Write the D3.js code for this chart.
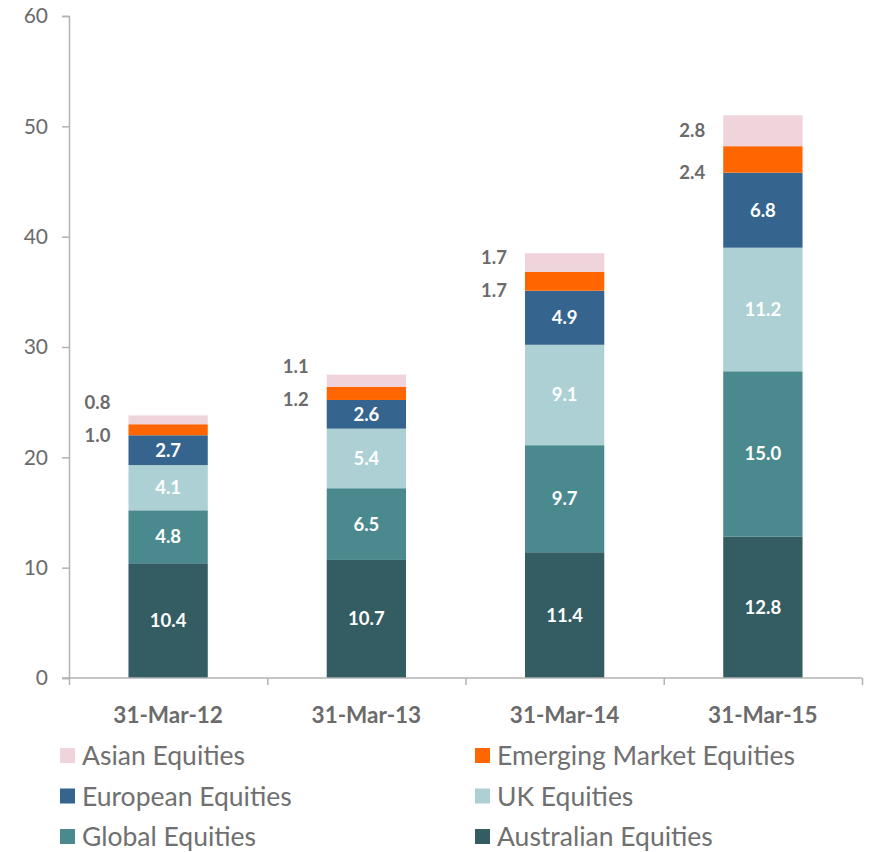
<!DOCTYPE html>
<html>
<head>
<meta charset="utf-8">
<script src="https://cdn.jsdelivr.net/npm/d3@7"></script>
<style>
  body { margin: 0; background: #fff; }
  svg { font-family: Lato, "Open Sans", sans-serif; }
</style>
</head>
<body>
<script>
// chart data
const dates = ["31-Mar-12", "31-Mar-13", "31-Mar-14", "31-Mar-15"];
const australian = [10.4, 10.7, 11.4, 12.8];
const global = [4.8, 6.5, 9.7, 15.0];
const uk = [4.1, 5.4, 9.1, 11.2];
const european = [2.7, 2.6, 4.9, 6.8];
const emerging = [1.0, 1.2, 1.7, 2.4];
const asian = [0.8, 1.1, 1.7, 2.8];
const yTicks = [0, 10, 20, 30, 40, 50, 60];

// stacking order bottom -> top
const series = [
  {key: "Australian Equities", values: australian, color: "#335c63"},
  {key: "Global Equities", values: global, color: "#4a8a8e"},
  {key: "UK Equities", values: uk, color: "#acd0d3"},
  {key: "European Equities", values: european, color: "#35658f"},
  {key: "Emerging Market Equities", values: emerging, color: "#ff6600"},
  {key: "Asian Equities", values: asian, color: "#efd4dc"}
];

// legend order (two columns, row by row)
const legendOrder = ["Asian Equities", "Emerging Market Equities", "European Equities",
  "UK Equities", "Global Equities", "Australian Equities"];

const W = 869, H = 852;
const margin = {top: 16, right: 7, bottom: 174, left: 69};
const width = W - margin.left - margin.right;
const height = H - margin.top - margin.bottom;

const svg = d3.select("body").append("svg")
  .attr("width", W)
  .attr("height", H);

const g = svg.append("g")
  .attr("transform", "translate(" + margin.left + "," + margin.top + ")");

const table = dates.map((d, i) => {
  const row = {date: d};
  series.forEach(s => { row[s.key] = s.values[i]; });
  return row;
});

const stack = d3.stack().keys(series.map(s => s.key));
const stacked = stack(table);

const x = d3.scaleBand()
  .domain(dates)
  .range([0, width])
  .paddingInner(0.6)
  .paddingOuter(0.3);

const xEdge = d3.scaleLinear().domain([0, dates.length]).range([0, width]);

const y = d3.scaleLinear().domain([0, 60]).range([height, 0]);

const axisColor = "#b3b3b3";
const textColor = "#6b6b6b";

// y axis
const yAxis = g.append("g")
  .call(d3.axisLeft(y).tickValues(yTicks).tickSize(7).tickSizeOuter(7).tickPadding(14));
yAxis.selectAll("path, line").attr("stroke", axisColor).attr("stroke-width", 1.5);
yAxis.selectAll("text")
  .attr("fill", textColor)
  .attr("font-size", 21)
  .attr("font-family", "Lato, sans-serif");

// bars
const colorOf = {};
series.forEach(s => { colorOf[s.key] = s.color; });

const layers = g.selectAll("g.layer")
  .data(stacked)
  .enter().append("g")
  .attr("class", "layer")
  .attr("fill", d => colorOf[d.key]);

layers.selectAll("rect")
  .data(d => d)
  .enter().append("rect")
  .attr("x", d => x(d.data.date))
  .attr("y", d => y(d[1]))
  .attr("width", x.bandwidth())
  .attr("height", d => y(d[0]) - y(d[1]));

// x axis: ticks at category boundaries
const xAxis = g.append("g")
  .attr("transform", "translate(0," + height + ")")
  .call(d3.axisBottom(xEdge).tickValues(d3.range(dates.length + 1)).tickFormat("").tickSize(7).tickSizeOuter(0));
xAxis.selectAll("path, line").attr("stroke", axisColor).attr("stroke-width", 1.5);
xAxis.select("path.domain").attr("d", "M-7,0H" + width);

g.selectAll("text.cat")
  .data(dates)
  .enter().append("text")
  .attr("class", "cat")
  .attr("x", d => x(d) + x.bandwidth() / 2)
  .attr("y", height + 45)
  .attr("text-anchor", "middle")
  .attr("fill", textColor)
  .attr("font-size", 22.5)
  .attr("font-weight", 700)
  .text(d => d);

// value labels inside bars (bottom four series)
const inside = stacked.slice(0, 4);
inside.forEach(layer => {
  g.selectAll(null)
    .data(layer)
    .enter().append("text")
    .attr("x", d => x(d.data.date) + x.bandwidth() / 2)
    .attr("y", d => (y(d[0]) + y(d[1])) / 2)
    .attr("dy", "0.35em")
    .attr("text-anchor", "middle")
    .attr("fill", "#fff")
    .attr("font-size", 18.5)
    .attr("font-weight", 700)
    .text(d => (d[1] - d[0]).toFixed(1));
});

// labels outside (left of bar) for emerging and asian
const emLayer = stacked[4], asLayer = stacked[5];
dates.forEach((d, i) => {
  const xl = x(d) - 18;
  const emY = y(emLayer[i][0]);
  const asY = Math.min((y(asLayer[i][0]) + y(asLayer[i][1])) / 2, emY - 33);
  [[emY, emerging[i]], [asY, asian[i]]].forEach(p => {
    g.append("text")
      .attr("x", xl)
      .attr("y", p[0])
      .attr("dy", "0.35em")
      .attr("text-anchor", "end")
      .attr("fill", textColor)
      .attr("font-size", 18.5)
      .attr("font-weight", 700)
      .text(p[1].toFixed(1));
  });
});

// legend
const legend = svg.append("g");
const items = legend.selectAll("g.item")
  .data(legendOrder)
  .enter().append("g")
  .attr("class", "item")
  .attr("transform", (d, i) => "translate(" + (i % 2 === 0 ? 60 : 475) + "," + (756 + Math.floor(i / 2) * 40.5) + ")");

items.append("rect")
  .attr("x", 0)
  .attr("y", -8)
  .attr("width", 15)
  .attr("height", 15)
  .attr("fill", d => colorOf[d]);

items.append("text")
  .attr("x", 22)
  .attr("y", 0)
  .attr("dy", "0.35em")
  .attr("fill", "#707070")
  .attr("font-size", 26.5)
  .text(d => d);
</script>
</body>
</html>
